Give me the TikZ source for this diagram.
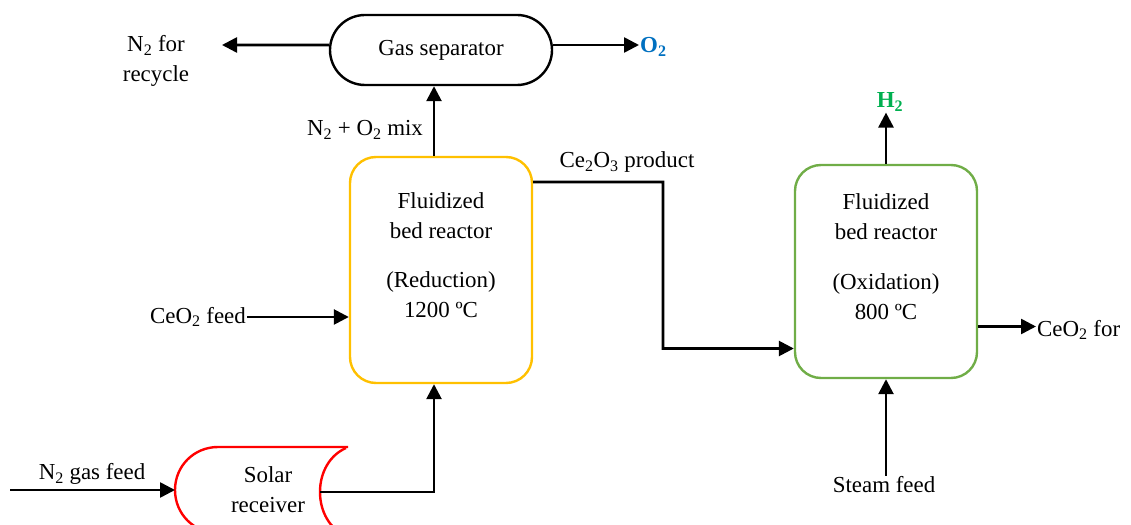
\documentclass[tikz,border=0pt]{standalone}
\usepackage{fontspec}
\setmainfont{Liberation Serif}
\usepackage{tikz}
\usetikzlibrary{arrows.meta,positioning,calc}

\definecolor{redcol}{HTML}{FFC000}
\definecolor{oxcol}{HTML}{70AD47}
\definecolor{o2blue}{HTML}{0070C0}
\definecolor{h2green}{HTML}{00B050}

\tikzset{
  flow/.style={line width=2.6bp,-{Triangle[length=15bp,width=15bp]}},
  reactor/.style={draw,line width=2.4bp,rounded corners=26bp,minimum width=182bp,align=center},
  lbl/.style={inner sep=1bp,align=center}
}

\begin{document}
\begin{tikzpicture}[x=1bp,y=-1bp, every node/.style={font=\fontsize{23}{30}\selectfont}]
\useasboundingbox (0,0) rectangle (1131,525);
\clip (0,0) rectangle (1131,525);
% units and separator
\node[draw,line width=2.4bp,rounded corners=35bp,minimum width=222bp,minimum height=70bp] (sep) at (441,50) {Gas separator};
\node[reactor,draw=redcol,minimum height=226bp] (red) at (441,270) {Fluidized\\ bed reactor\\[20bp] (Reduction)\\ 1200 ºC\\ \mbox{}};
\node[reactor,draw=oxcol,minimum height=213bp] (ox) at (886,271.5) {Fluidized\\ bed reactor\\[20bp] (Oxidation)\\ 800 ºC\\ \mbox{}};
% solar receiver drawn directly
\draw[red,line width=2.4bp] (348,447) -- (218,447) .. controls (194,447) and (175,466) .. (175,490)
  .. controls (175,514) and (194,533) .. (218,533) -- (348,533);
\draw[red,line width=2.4bp] (346,448) .. controls (330,455) and (320,472) .. (320,492)
  .. controls (320,512) and (330,529) .. (346,536);
\node[lbl] (rcv) at (268,490) {Solar\\ receiver};
\coordinate (rcvin) at (175,490);
\coordinate (rcvout) at (320,492);
% stream labels
\node[lbl] (recyc) at (156,61) {N\textsubscript{2} for\\ recycle};
\coordinate (recycend) at (222,45);
\node[lbl,anchor=west,text=o2blue,font=\fontsize{23}{30}\selectfont\bfseries] (o2) at (639,47) {O\textsubscript{2}};
\node[lbl] (mix) at (365,130) {N\textsubscript{2} + O\textsubscript{2} mix};
\node[lbl,anchor=east] (feed) at (247,317) {CeO\textsubscript{2} feed};
\node[lbl] (prod) at (627,162) {Ce\textsubscript{2}O\textsubscript{3} product};
\node[lbl,text=h2green,font=\fontsize{23}{30}\selectfont\bfseries] (h2) at (890,102) {H\textsubscript{2}};
\node[lbl,anchor=west] (ceo2) at (1036,330) {CeO\textsubscript{2} for};
\node[lbl] (steam) at (884,485) {Steam feed};
\node[lbl] (n2feed) at (92,474) {N\textsubscript{2} gas feed};
\coordinate (n2in) at (10,490);
% streams
\draw[flow] ([yshift=5bp]sep.west) -- (recycend);
\draw[flow] ([yshift=5bp]sep.east) -- ([yshift=5bp]sep.east -| o2.west);
\draw[flow] ([xshift=-7bp]red.north) -- ([xshift=-7bp]sep.south);
\draw[flow] (feed.east) -- (feed.east -| red.west);
\draw[flow] ([yshift=88bp]red.east) -- (663,182) |- ([yshift=-77bp]ox.west);
\draw[flow] (ox.north) -- (ox.north |- h2.south);
\draw[flow] ([yshift=-55bp]ox.east) -- ([yshift=-55bp]ox.east -| ceo2.west);
\draw[flow] (ox.south |- steam.north) -- (ox.south);
\draw[flow] (n2in) -- (rcvin);
\draw[flow] (rcvout) -| ([xshift=-7bp]red.south);
\end{tikzpicture}
\end{document}
